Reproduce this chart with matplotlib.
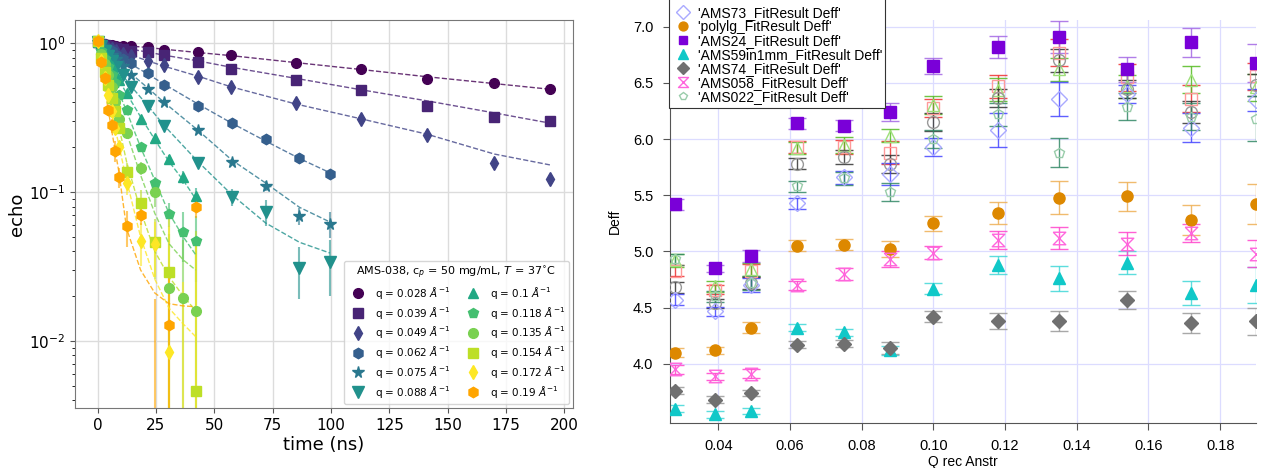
import numpy as np
import matplotlib
matplotlib.use("Agg")
import matplotlib.pyplot as plt
from matplotlib.path import Path
from matplotlib.patches import Rectangle

# ── Left panel: echo decays for AMS-038 ──
q_values = [0.028, 0.039, 0.049, 0.062, 0.075, 0.088, 0.1, 0.118, 0.135, 0.154, 0.172, 0.19]

t_long = [0, 1.5, 3, 4.5, 6, 8, 11, 14.5, 21.5, 28.5, 43, 57, 85, 113, 141, 170, 194]
t_mid = [0, 1.5, 3, 4.5, 6, 8, 11, 14.5, 21.5, 28.5, 43, 57.5, 72, 86.5, 99.5]
t_short = [0, 1.5, 3, 4.5, 6, 7.5, 9, 12.4, 18.4, 24.5, 30.6, 36.7, 42]

echo_028 = [1.03, 0.99, 0.98, 0.975, 0.97, 0.96, 0.955, 0.95, 0.94, 0.90, 0.87, 0.83, 0.73, 0.67, 0.57, 0.54, 0.49]
echo_039 = [1.02, 0.99, 0.97, 0.955, 0.94, 0.93, 0.91, 0.89, 0.87, 0.83, 0.745, 0.67, 0.565, 0.484, 0.38, 0.32, 0.30]
echo_049 = [1.02, 0.97, 0.95, 0.93, 0.91, 0.88, 0.85, 0.82, 0.76, 0.71, 0.59, 0.51, 0.395, 0.31, 0.24, 0.157, 0.122]
echo_062 = [1.02, 0.97, 0.94, 0.91, 0.88, 0.83, 0.78, 0.73, 0.63, 0.52, 0.38, 0.29, 0.227, 0.17, 0.132]
echo_075 = [1.02, 0.96, 0.91, 0.87, 0.83, 0.78, 0.70, 0.61, 0.49, 0.40, 0.26, 0.16, 0.11, 0.069, 0.061]
echo_088 = [1.02, 0.95, 0.88, 0.82, 0.76, 0.69, 0.61, 0.507, 0.378, 0.277, 0.157, 0.093, 0.074, 0.031, 0.034]
echo_100 = [1.02, 0.92, 0.84, 0.77, 0.70, 0.63, 0.564, 0.46, 0.31, 0.23, 0.166, 0.126, 0.094]
echo_118 = [1.02, 0.88, 0.78, 0.69, 0.61, 0.54, 0.45, 0.355, 0.20, 0.115, 0.071, 0.054, 0.047]
echo_135 = [1.03, 0.85, 0.72, 0.61, 0.51, 0.40, 0.31, 0.25, 0.145, 0.10, 0.0226, 0.0195, 0.016]
echo_154 = [1.03, 0.80, 0.64, 0.52, 0.43, 0.35, 0.27, 0.137, 0.084, 0.046, 0.029, np.nan, 0.0046]
echo_172 = [1.04, 0.76, 0.58, 0.45, 0.35, 0.27, 0.20, 0.115, 0.047, 0.045, 0.0085, -0.005, -0.005]
echo_190 = [1.04, 0.75, 0.58, 0.355, 0.28, 0.19, 0.126, 0.059, 0.070, -0.002, 0.0128, np.nan, 0.079]

err_028 = [0.02, 0.01, 0.01, 0.01, 0.01, 0.01, 0.01, 0.01, 0.01, 0.01, 0.01, 0.01, 0.01, 0.01, 0.01, 0.01, 0.01]
err_039 = [0.02, 0.01, 0.01, 0.01, 0.01, 0.01, 0.01, 0.01, 0.01, 0.01, 0.01, 0.01, 0.01, 0.01, 0.01, 0.01, 0.01]
err_049 = [0.02, 0.01, 0.01, 0.01, 0.01, 0.01, 0.01, 0.01, 0.01, 0.01, 0.01, 0.01, 0.01, 0.01, 0.01, 0.012, 0.01]
err_062 = [0.02, 0.01, 0.01, 0.01, 0.01, 0.01, 0.01, 0.01, 0.01, 0.01, 0.01, 0.008, 0.008, 0.008, 0.008]
err_075 = [0.02, 0.01, 0.01, 0.01, 0.01, 0.01, 0.01, 0.01, 0.01, 0.01, 0.01, 0.008, 0.008, 0.009, 0.012]
err_088 = [0.02, 0.01, 0.01, 0.01, 0.01, 0.01, 0.01, 0.01, 0.01, 0.01, 0.01, 0.012, 0.015, 0.012, 0.014]
err_100 = [0.02, 0.01, 0.01, 0.01, 0.01, 0.01, 0.015, 0.015, 0.012, 0.012, 0.012, 0.012, 0.013]
err_118 = [0.02, 0.01, 0.01, 0.01, 0.01, 0.01, 0.01, 0.012, 0.012, 0.012, 0.013, 0.02, 0.022]
err_135 = [0.02, 0.01, 0.01, 0.01, 0.01, 0.012, 0.012, 0.015, 0.015, 0.02, 0.03, 0.028, 0.03]
err_154 = [0.02, 0.01, 0.01, 0.01, 0.012, 0.015, 0.015, 0.02, 0.02, 0.02, 0.03, 0.0, 0.05]
err_172 = [0.02, 0.02, 0.02, 0.02, 0.02, 0.02, 0.02, 0.02, 0.015, 0.018, 0.06, 0.03, 0.05]
err_190 = [0.02, 0.03, 0.03, 0.03, 0.03, 0.03, 0.02, 0.016, 0.01, 0.021, 0.018, 0.0, 0.012]

fit_028 = [1.0, 0.995, 0.99, 0.985, 0.98, 0.975, 0.965, 0.955, 0.935, 0.91, 0.865, 0.825, 0.74, 0.665, 0.595, 0.535, 0.49]
fit_039 = [1.0, 0.99, 0.98, 0.97, 0.96, 0.95, 0.93, 0.91, 0.87, 0.83, 0.76, 0.69, 0.58, 0.486, 0.41, 0.34, 0.29]
fit_049 = [1.0, 0.98, 0.96, 0.94, 0.92, 0.90, 0.86, 0.83, 0.76, 0.70, 0.60, 0.51, 0.39, 0.31, 0.245, 0.18, 0.152]
fit_062 = [1.0, 0.96, 0.93, 0.90, 0.87, 0.83, 0.78, 0.72, 0.62, 0.53, 0.39, 0.29, 0.22, 0.168, 0.135]
fit_075 = [1.0, 0.95, 0.90, 0.86, 0.82, 0.77, 0.70, 0.62, 0.50, 0.40, 0.26, 0.164, 0.115, 0.079, 0.063]
fit_088 = [1.0, 0.94, 0.88, 0.82, 0.76, 0.69, 0.60, 0.51, 0.38, 0.28, 0.16, 0.096, 0.062, 0.046, 0.039]
fit_100 = [1.0, 0.91, 0.83, 0.76, 0.69, 0.63, 0.57, 0.46, 0.32, 0.225, 0.16, 0.12, 0.09]
fit_118 = [1.0, 0.88, 0.78, 0.69, 0.61, 0.54, 0.47, 0.35, 0.20, 0.12, 0.072, 0.05, 0.038]
fit_135 = [1.0, 0.85, 0.72, 0.61, 0.51, 0.43, 0.36, 0.25, 0.13, 0.072, 0.045, 0.035, 0.03]
fit_154 = [1.0, 0.80, 0.65, 0.53, 0.43, 0.35, 0.28, 0.16, 0.075, 0.04, 0.027, 0.02, 0.016]
fit_172 = [1.0, 0.76, 0.58, 0.45, 0.35, 0.27, 0.21, 0.12, 0.05, 0.026, 0.0166, 0.013, 0.0107]
fit_190 = [1.0, 0.70, 0.50, 0.36, 0.26, 0.19, 0.14, 0.057, 0.03, 0.021, 0.0178, 0.0172, 0.017]

times_by_q = [t_long, t_long, t_long, t_mid, t_mid, t_mid,
              t_short, t_short, t_short, t_short, t_short, t_short]
echo_by_q = [echo_028, echo_039, echo_049, echo_062, echo_075, echo_088,
             echo_100, echo_118, echo_135, echo_154, echo_172, echo_190]
err_by_q = [err_028, err_039, err_049, err_062, err_075, err_088,
            err_100, err_118, err_135, err_154, err_172, err_190]
fit_by_q = [fit_028, fit_039, fit_049, fit_062, fit_075, fit_088,
            fit_100, fit_118, fit_135, fit_154, fit_172, fit_190]

# ── Right panel: Deff vs Q for several samples ──
q_right = [0.028, 0.039, 0.049, 0.062, 0.075, 0.088, 0.100, 0.118, 0.135, 0.154, 0.172, 0.190]

deff_sq = [4.83, 4.66, 4.83, 5.93, 5.93, 5.88, 6.28, 6.47, 6.77, 6.55, 6.36, 6.56]
err_sq = [0.05, 0.04, 0.06, 0.05, 0.06, 0.10, 0.08, 0.10, 0.12, 0.12, 0.12, 0.12]
deff_tri = [4.92, 4.69, 4.84, 5.92, 5.95, 6.03, 6.30, 6.44, 6.62, 6.47, 6.53, 6.46]
err_tri = [0.06, 0.05, 0.06, 0.05, 0.07, 0.06, 0.08, 0.10, 0.10, 0.10, 0.12, 0.12]
deff_circ = [4.68, 4.54, 4.72, 5.78, 5.84, 5.78, 6.15, 6.37, 6.70, 6.45, 6.24, 6.48]
err_circ = [0.05, 0.04, 0.05, 0.05, 0.06, 0.08, 0.08, 0.08, 0.10, 0.08, 0.10, 0.10]
deff_ams73 = [4.57, 4.47, 4.70, 5.43, 5.66, 5.69, 5.93, 6.08, 6.36, 6.40, 6.10, 6.35]
err_ams73 = [0.05, 0.04, 0.06, 0.05, 0.06, 0.10, 0.08, 0.15, 0.15, 0.08, 0.13, 0.10]
deff_polylg = [4.10, 4.12, 4.32, 5.05, 5.06, 5.02, 5.25, 5.34, 5.48, 5.49, 5.28, 5.42]
err_polylg = [0.04, 0.03, 0.05, 0.05, 0.05, 0.07, 0.07, 0.10, 0.15, 0.13, 0.13, 0.18]
deff_ams24 = [5.42, 4.85, 4.96, 6.14, 6.12, 6.24, 6.65, 6.82, 6.91, 6.62, 6.86, 6.68]
err_ams24 = [0.05, 0.03, 0.05, 0.05, 0.05, 0.08, 0.07, 0.10, 0.14, 0.11, 0.13, 0.17]
deff_ams59 = [3.60, 3.55, 3.58, 4.32, 4.28, 4.12, 4.67, 4.88, 4.76, 4.90, 4.63, 4.70]
err_ams59 = [0.03, 0.03, 0.03, 0.03, 0.03, 0.04, 0.05, 0.08, 0.11, 0.10, 0.11, 0.16]
deff_ams74 = [3.76, 3.68, 3.74, 4.17, 4.18, 4.14, 4.42, 4.38, 4.38, 4.57, 4.36, 4.38]
err_ams74 = [0.03, 0.03, 0.03, 0.03, 0.03, 0.05, 0.05, 0.07, 0.09, 0.08, 0.09, 0.12]
deff_ams058 = [3.95, 3.89, 3.91, 4.70, 4.80, 4.93, 4.99, 5.10, 5.12, 5.07, 5.16, 4.98]
err_ams058 = [0.04, 0.03, 0.04, 0.04, 0.05, 0.07, 0.06, 0.08, 0.10, 0.10, 0.08, 0.12]
deff_ams022 = [4.93, 4.60, 4.72, 5.58, 5.65, 5.53, 6.00, 6.22, 5.88, 6.29, 6.20, 6.18]
err_ams022 = [0.05, 0.05, 0.06, 0.05, 0.06, 0.08, 0.08, 0.10, 0.13, 0.12, 0.12, 0.20]

# ── Figure ──
W, H = 1263, 468
fig = plt.figure(figsize=(W / 100, H / 100), dpi=100, facecolor="white")
ax1 = fig.add_axes([75 / W, 60 / H, 498 / W, 388 / H])
ax2 = fig.add_axes([670 / W, 45.3 / H, 586 / W, 402.7 / H])

# Left panel
markers = ["o", "s", "d", "h", "*", "v", "^", "p", "o", "s", "d", "h"]
colors = list(plt.cm.viridis(np.linspace(0, 1, 11))) + ["orange"]
msizes = [7, 7, 7.5, 7.5, 8.5, 8, 7.5, 7.5, 7, 7, 7.5, 7.5]

for i, q in enumerate(q_values):
    t = times_by_q[i]
    c = colors[i]
    ax1.errorbar(t, echo_by_q[i], yerr=err_by_q[i], fmt="none", ecolor=c,
                 elinewidth=1.5, alpha=0.6, zorder=2)
    ax1.plot(t, fit_by_q[i], "--", color=c, lw=1.0, alpha=0.8, zorder=3)
    ax1.plot(t, echo_by_q[i], linestyle="none", marker=markers[i], ms=msizes[i],
             color=c, zorder=4, label=rf"q = {q:g} $\AA^{{-1}}$")

ax1.set_yscale("log")
ax1.set_xlim(-9.7, 203.7)
ax1.set_ylim(0.00355, 1.43)
ax1.set_xticks([0, 25, 50, 75, 100, 125, 150, 175, 200])
ax1.grid(True, which="major", color="#dcdcdc", lw=1.0)
ax1.set_axisbelow(True)
ax1.tick_params(labelsize=11, color="#555")
for sp in ax1.spines.values():
    sp.set_color("#777777")
ax1.set_xlabel("time (ns)", fontsize=13, labelpad=2)
ax1.set_ylabel("echo", fontsize=13, labelpad=2)
ax1.legend(ncol=2, loc="lower right", fontsize=7.5,
           title=r"AMS-038, c$_p$ = 50 mg/mL, $T$ = 37$^{\circ}$C",
           title_fontsize=8, borderaxespad=0.4, columnspacing=1.2,
           handletextpad=0.6, labelspacing=0.36)

# Right panel
hourglass = Path([(-0.5, 0.5), (0.5, 0.5), (-0.5, -0.5), (0.5, -0.5), (-0.5, 0.5)],
                 [Path.MOVETO, Path.LINETO, Path.LINETO, Path.LINETO, Path.LINETO])

right_series = [
    # label, values, errors, marker, size, marker colour, filled, bar colour
    (None, deff_sq, err_sq, "s", 8, "#ff9a9a", False, "#ee3030"),
    (None, deff_tri, err_tri, "^", 9, "#9ee07a", False, "#55bb22"),
    (None, deff_circ, err_circ, "o", 8.5, "#999999", False, "#333333"),
    ("'AMS73_FitResult Deff'", deff_ams73, err_ams73, "D", 8.5, "#aaaaff", False, "#4444ff"),
    ("'AMS022_FitResult Deff'", deff_ams022, err_ams022, "p", 7.5, "#99ccaa", False, "#338866"),
    ("'polylg_FitResult Deff'", deff_polylg, err_polylg, "o", 8, "#dd8800", True, "#eeb055"),
    ("'AMS59in1mm_FitResult Deff'", deff_ams59, err_ams59, "^", 8.5, "#10c8c8", True, "#40d8d8"),
    ("'AMS74_FitResult Deff'", deff_ams74, err_ams74, "D", 7.5, "#707070", True, "#999999"),
    ("'AMS058_FitResult Deff'", deff_ams058, err_ams058, hourglass, 9, "#ff66dd", False, "#ff44cc"),
    ("'AMS24_FitResult Deff'", deff_ams24, err_ams24, "s", 8, "#7a00d8", True, "#a468e4"),
]

handles = {}
for label, vals, errs, mk, ms, mc, filled, bc in right_series:
    ax2.errorbar(q_right, vals, yerr=errs, fmt="none", ecolor=bc, elinewidth=1.0,
                 capsize=6.5, capthick=1.0, alpha=0.85, zorder=2)
    h, = ax2.plot(q_right, vals, linestyle="none", marker=mk, ms=ms,
                  markerfacecolor=mc if filled else "none", markeredgecolor=mc,
                  markeredgewidth=1.0, zorder=3)
    if label:
        handles[label] = h

legend_order = ["'AMS73_FitResult Deff'", "'polylg_FitResult Deff'", "'AMS24_FitResult Deff'",
                "'AMS59in1mm_FitResult Deff'", "'AMS74_FitResult Deff'",
                "'AMS058_FitResult Deff'", "'AMS022_FitResult Deff'"]

ax2.set_xlim(0.0265, 0.19)
ax2.set_ylim(3.476, 7.06)
ax2.set_xticks([0.04, 0.06, 0.08, 0.10, 0.12, 0.14, 0.16, 0.18])
ax2.set_yticks([4.0, 4.5, 5.0, 5.5, 6.0, 6.5, 7.0])
ax2.set_xticklabels(["0.04", "0.06", "0.08", "0.10", "0.12", "0.14", "0.16", "0.18"])
ax2.grid(True, color="#dcdcff", lw=0.9)
ax2.set_axisbelow(True)
for side in ["top", "right"]:
    ax2.spines[side].set_visible(False)
for side in ["left", "bottom"]:
    ax2.spines[side].set_color("#555555")
ax2.tick_params(direction="out", length=5, color="#555555", labelsize=10.5, pad=7)
for lab in ax2.get_xticklabels() + ax2.get_yticklabels():
    lab.set_fontfamily("Liberation Sans")
ax2.set_xlabel("Q rec Anstr", fontsize=10, family="Liberation Sans", labelpad=1)
ax2.set_ylabel("Deff", fontsize=10, family="Liberation Sans", labelpad=8)

# legend box runs past the top edge of the figure, as in the reference
leg = ax2.legend([handles[k] for k in legend_order], legend_order,
                 loc="lower left", bbox_to_anchor=(0.0, (422.7 - 108) / 402.7),
                 borderaxespad=0, frameon=False,
                 prop={"family": "Liberation Sans", "size": 10},
                 labelspacing=0.0, handletextpad=0.5, borderpad=0.3,
                 handlelength=1.2, markerscale=0.8)
leg.set_zorder(10)
box = Rectangle((669 / W, (H - 108) / H), 216 / W, 0.3, transform=fig.transFigure,
                facecolor="white", edgecolor="#333333", lw=0.8, clip_on=False, zorder=9)
ax2.add_artist(box)

fig.savefig("out.png", dpi=100, facecolor="white")
